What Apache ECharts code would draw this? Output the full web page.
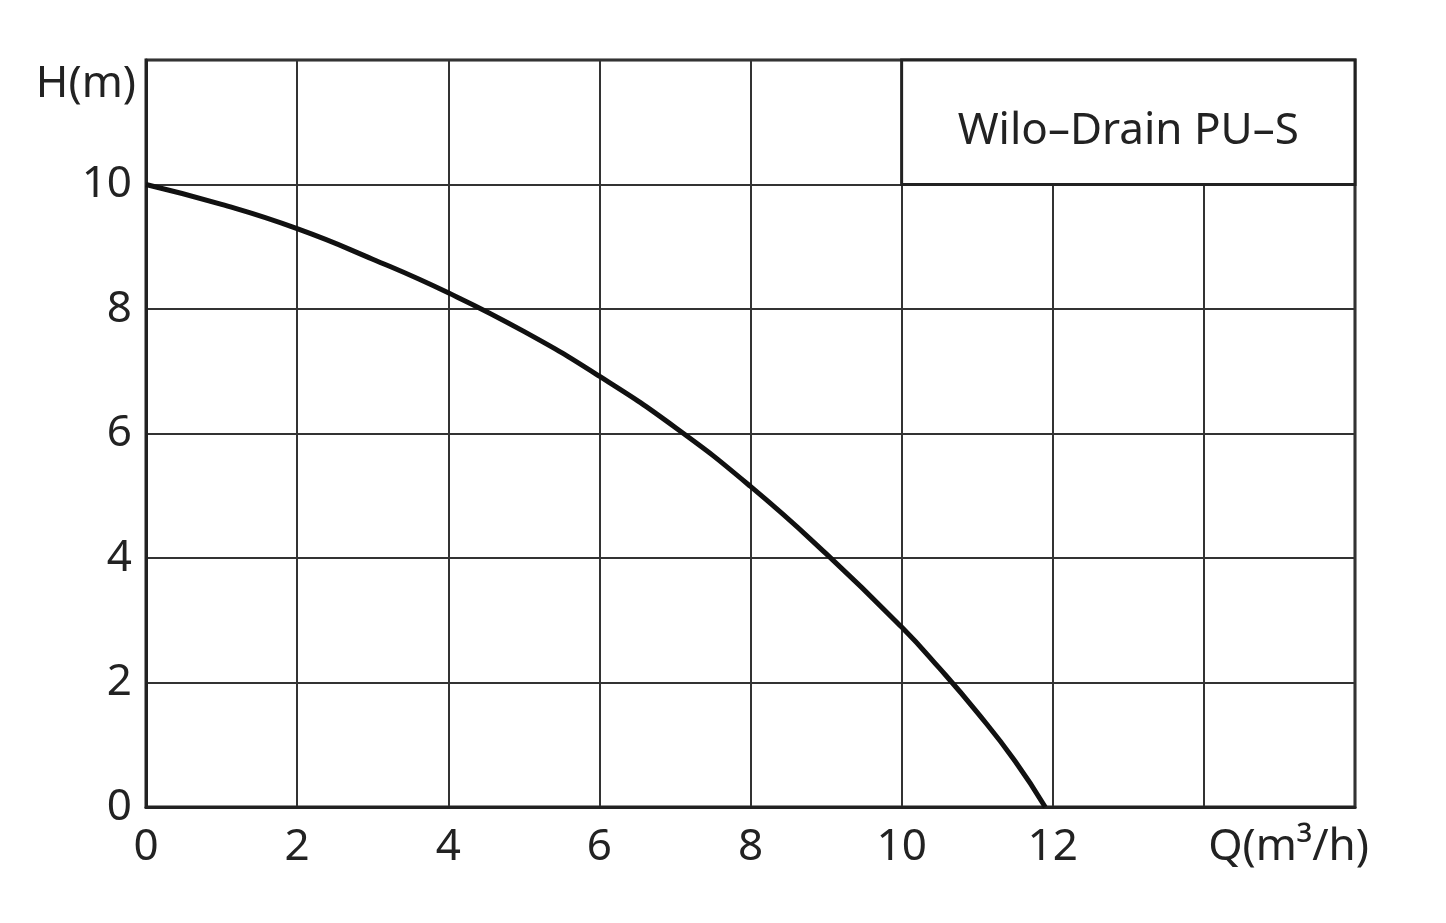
<!DOCTYPE html>
<html lang="en">
<head>
    <meta charset="UTF-8">
    <title>Wilo-Drain PU-S</title>
    <script src="https://cdn.jsdelivr.net/npm/echarts@6/dist/echarts.min.js"></script>
    <style>
        html, body { margin: 0; padding: 0; background: #fff; }
        #main { width: 1446px; height: 923px; }
    </style>
</head>
<body>
<div id="main"></div>
<script>
    // pump curve: flow Q (m³/h) vs head H (m)
    var flowQ = [0, 1, 2, 3, 4, 5, 6, 7, 8, 9, 10, 10.5, 11, 11.5, 11.9]
    var headH = [10, 9.68, 9.29, 8.8, 8.26, 7.64, 6.92, 6.1, 5.15, 4.07, 2.89, 2.23, 1.52, 0.74, 0]
    var xTicks = [0, 2, 4, 6, 8, 10, 12]
    var yTicks = [0, 2, 4, 6, 8, 10]
    var titleText = 'Wilo–Drain PU–S'

    var ink = '#222'
    var font = 'Noto Sans'

    var curve = flowQ.map(function(q, i) { return [q, headH[i]] })

    var chart = echarts.init(document.getElementById('main'))
    chart.setOption({
        animation: false,
        grid: {
            left: 146, right: 91, top: 60, bottom: 116,
            show: true, borderColor: ink, borderWidth: 3
        },
        xAxis: {
            type: 'value', min: 0, max: 16, interval: 2,
            name: 'Q(m³/h)', nameLocation: 'end', nameGap: 14,
            nameTextStyle: {
                fontFamily: font, fontSize: 44, color: ink,
                align: 'right', verticalAlign: 'top', padding: [18, 0, 0, 0]
            },
            axisLine: { lineStyle: { color: ink, width: 3 } },
            axisTick: { show: false },
            splitLine: { lineStyle: { color: '#333', width: 2 } },
            axisLabel: {
                margin: 18, fontFamily: font, fontSize: 44, color: ink,
                formatter: function(v) { return xTicks.indexOf(v) >= 0 ? String(v) : '' }
            }
        },
        yAxis: {
            type: 'value', min: 0, max: 12, interval: 2,
            name: 'H(m)', nameLocation: 'end', nameGap: -46,
            nameTextStyle: {
                fontFamily: font, fontSize: 44, color: ink,
                align: 'right', padding: [0, 10, 0, 0]
            },
            axisLine: { lineStyle: { color: ink, width: 3 } },
            axisTick: { show: false },
            splitLine: { lineStyle: { color: '#333', width: 2 } },
            axisLabel: {
                margin: 14, fontFamily: font, fontSize: 44, color: ink,
                formatter: function(v) { return yTicks.indexOf(v) >= 0 ? String(v) : '' }
            }
        },
        series: [{
            type: 'line',
            data: curve,
            smooth: 0.5,
            showSymbol: false,
            lineStyle: { color: '#111', width: 5 },
            markArea: {
                silent: true,
                itemStyle: { color: '#fff', borderColor: ink, borderWidth: 3 },
                label: {
                    show: true, position: 'inside',
                    fontFamily: font, fontSize: 44, color: ink,
                    offset: [0, 9]
                },
                data: [[
                    { name: titleText, xAxis: 10, yAxis: 12 },
                    { xAxis: 16, yAxis: 10 }
                ]]
            }
        }]
    })
</script>
</body>
</html>
